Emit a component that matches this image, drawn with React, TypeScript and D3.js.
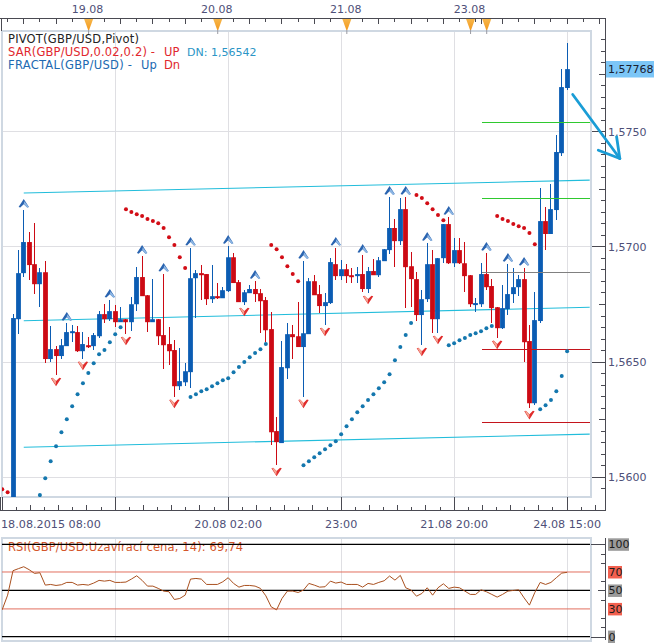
import React from "react";
import * as d3 from "d3";

const opens = [1.5577,1.56684,1.56884,1.57019,1.56923,1.56836,1.56888,1.56511,1.56554,1.56524,1.56567,1.56625,1.56628,1.56545,1.56571,1.56567,1.5661,1.56706,1.56684,1.56719,1.56671,1.56684,1.56671,1.56749,1.56867,1.56788,1.56671,1.56684,1.56615,1.56576,1.5655,1.56393,1.5641,1.56454,1.56862,1.56884,1.5688,1.56771,1.56784,1.56775,1.56806,1.56953,1.56845,1.56758,1.56797,1.56815,1.56797,1.56767,1.56641,1.56198,1.56146,1.56471,1.56619,1.5661,1.56563,1.56619,1.56849,1.56793,1.56741,1.56754,1.56923,1.56871,1.56901,1.56875,1.56871,1.5688,1.56815,1.56893,1.56875,1.56936,1.56984,1.5708,1.57023,1.57162,1.56914,1.56858,1.56702,1.56771,1.56923,1.56684,1.56949,1.57097,1.56927,1.56984,1.56927,1.56875,1.56749,1.56749,1.5688,1.56828,1.56736,1.56645,1.56728,1.56793,1.56823,1.56858,1.56589,1.56319,1.56676,1.5711,1.57054,1.57158,1.57405,1.57688];
const closes = [1.56689,1.56884,1.57019,1.56919,1.56836,1.56888,1.56511,1.56554,1.56524,1.56571,1.56628,1.56632,1.56545,1.56576,1.56565,1.56615,1.56706,1.56684,1.56719,1.56671,1.56684,1.56671,1.56749,1.56867,1.56784,1.56671,1.56684,1.5661,1.56571,1.56545,1.56393,1.56415,1.56458,1.56862,1.56884,1.56875,1.56771,1.56784,1.56775,1.5681,1.56953,1.56841,1.56758,1.56801,1.56815,1.56793,1.56762,1.56636,1.56193,1.5615,1.56476,1.56619,1.56606,1.56563,1.56623,1.56849,1.56788,1.56741,1.56758,1.56932,1.56871,1.56901,1.56871,1.56871,1.5688,1.56815,1.56893,1.56875,1.5694,1.56988,1.5708,1.57023,1.57162,1.5691,1.56858,1.56702,1.56771,1.56923,1.56684,1.56949,1.57097,1.56927,1.56984,1.56927,1.56871,1.56749,1.56754,1.5688,1.56823,1.56732,1.56645,1.56732,1.56793,1.56823,1.56858,1.56584,1.56319,1.5668,1.5711,1.57054,1.57162,1.5741,1.57692,1.5777];
const highs = [1.56706,1.56984,1.57158,1.57062,1.57101,1.56906,1.56936,1.56654,1.56567,1.56597,1.56667,1.56658,1.56654,1.56628,1.56606,1.56623,1.56719,1.56749,1.56767,1.56745,1.56736,1.56684,1.5678,1.5691,1.56958,1.56788,1.56858,1.56684,1.5688,1.56649,1.56593,1.56558,1.56493,1.56993,1.56897,1.56919,1.5688,1.56919,1.56841,1.56823,1.57001,1.56971,1.56854,1.5681,1.56832,1.56849,1.56815,1.5678,1.56715,1.56258,1.56589,1.56667,1.56658,1.56758,1.56936,1.56862,1.56875,1.56832,1.56797,1.56949,1.56993,1.5694,1.56923,1.56906,1.5691,1.56962,1.5691,1.56945,1.56953,1.56988,1.57214,1.57119,1.5721,1.57214,1.56975,1.56888,1.5681,1.57014,1.56984,1.56949,1.57097,1.57127,1.57036,1.57036,1.57019,1.56875,1.56775,1.56927,1.56971,1.56858,1.56736,1.56832,1.56923,1.56906,1.56875,1.56906,1.56658,1.56801,1.57253,1.57171,1.57271,1.57483,1.5777,1.57884];
const lows = [1.557,1.56619,1.56867,1.56854,1.56793,1.56736,1.56493,1.56498,1.56441,1.56511,1.56567,1.56584,1.56541,1.56511,1.56558,1.5655,1.56602,1.56667,1.56676,1.56649,1.56671,1.56619,1.56632,1.56719,1.56784,1.56628,1.56671,1.56571,1.56467,1.56484,1.56346,1.56376,1.56393,1.56384,1.56689,1.56767,1.56745,1.56754,1.56771,1.56775,1.56801,1.56841,1.56758,1.56745,1.56797,1.56758,1.56623,1.56584,1.56137,1.5605,1.56146,1.56423,1.56511,1.56563,1.56346,1.56619,1.56788,1.5671,1.56658,1.56749,1.56854,1.56854,1.56841,1.56841,1.56841,1.56801,1.56797,1.56875,1.56867,1.56936,1.56966,1.5691,1.57006,1.56732,1.56736,1.56676,1.56571,1.56758,1.56623,1.56623,1.56927,1.56923,1.5691,1.56923,1.56801,1.56736,1.56715,1.56736,1.5681,1.56667,1.56602,1.56641,1.56702,1.56754,1.56784,1.56498,1.56297,1.5631,1.56667,1.56984,1.57054,1.57114,1.57392,1.57679];

const sarRed: [number, number[]][] = [
  [-2, [1.55946,1.55933]],
  [21, [1.57162,1.57149,1.5714,1.57132,1.57119,1.5711,1.57101,1.5708,1.5704,1.57006,1.56953,1.56906]],
  [48, [1.57006,1.56988,1.56953,1.56914,1.5688,1.56849]],
  [75, [1.57223,1.5721,1.57188,1.57162,1.57136,1.57114]],
  [90, [1.57132,1.57119,1.5711,1.57097,1.57088,1.5708,1.57058,1.5701]],
];
const sarBlue: [number, number[]][] = [
  [5, [1.5592,1.55993,1.56067,1.56132,1.56193,1.5625,1.56306,1.56358,1.56406,1.5645,1.56493,1.56532,1.5655,1.56584,1.56619,1.56649]],
  [33, [1.56346,1.56358,1.56371,1.5638,1.56393,1.56406,1.56419,1.56428,1.56454,1.56476,1.56498,1.56519,1.56537,1.56554,1.56576]],
  [54, [1.5605,1.56067,1.56085,1.56102,1.56119,1.56137,1.56154,1.56184,1.56219,1.5625,1.5628,1.56306,1.56333,1.56358,1.56384,1.5641,1.56445,1.56506,1.56563,1.56615,1.56667]],
  [81, [1.56571,1.5658,1.56593,1.56602,1.56615,1.56623,1.56632,1.56645,1.56654]],
  [98, [1.56293,1.5631,1.56333,1.56371,1.56437,1.56545]],
];

const fractalUp = [2,10,18,24,28,33,40,45,54,60,65,70,73,77,81,88,92,95];
const fractalDown = [8,13,21,30,43,49,54,58,66,76,79,90,96];

const pivotIdx = [2, 107.2];
const pivotTop = [1.57232, 1.57288];
const pivotMid = [1.56677, 1.56736];
const pivotLow = [1.56128, 1.56185];
const levelIdx = [87.1, 107.2];
const greenLevels = [1.57537, 1.57206];
const greyLevels = [1.56888];
const redLevels = [1.56553, 1.56236];

const priceMajor = [1.575, 1.57, 1.565, 1.56];
const priceLabels = ["1,5750", "1,5700", "1,5650", "1,5600"];
const gridIdx = [19, 40, 61, 82, 103];
const bottomLabels: [number, string, string][] = [
  [-2, "18.08.2015 08:00", "start"],
  [40, "20.08 02:00", "middle"],
  [61, "23:00", "middle"],
  [82, "21.08 20:00", "middle"],
  [103, "24.08 15:00", "middle"],
];
const dateMarks: [number, string][] = [[14, "19.08"], [38, "20.08"], [62, "21.08"], [85, "23.08"], [88, ""]];

const rsi = [35.5,29.3,44.9,71.4,73.6,75.7,72.5,68.5,69.2,55.8,56.5,55.4,56.2,58.7,58.7,55.8,56.5,55.8,58,60.9,60.1,60.9,58.7,58.7,59.1,62.3,65.9,60.9,54.7,54.7,52.2,49.3,48.6,40.2,41.3,44.9,62.3,63,62.3,56.5,56.5,56.5,59.4,63.8,57.6,53.6,55.4,55.4,54.7,52.2,44.2,32.2,29,41.3,49.3,49.3,47.8,50.4,57.6,55.8,53.6,54,60.1,58,59.1,56.5,56.5,56.5,53.6,57.6,56.5,58.7,60.5,65.6,61.2,66.3,52.9,50.4,43.8,46.7,52.9,44.9,52.9,57.2,52.2,53.6,52.9,49.3,45.7,45.7,50.7,48.6,45.7,42.8,45.7,49.3,50,50.7,42,34.1,47.8,58.7,56.5,58.7,63.8,68.8,69.6];
const rsiLevelsRed = [70, 30];
const rsiLevelsBlack = [100, 50, 0];
const rsiTags: [number, string, string, number][] = [[100, "100", "#9a9a9a", 21], [70, "70", "#f2604f", 14], [50, "50", "#9a9a9a", 14], [30, "30", "#f2604f", 14], [0, "0", "#9a9a9a", 7]];
const rsiMinor = [90, 80, 60, 40, 20, 10];

// annotation arrow, in chart coordinates [index, price]
const arrowShaft: [number, number][] = [[104.04, 1.5766], [112.8, 1.57382]];
const arrowHeadA: [number, number][] = [[112.2, 1.57476], [112.8, 1.57382]];
const arrowHeadB: [number, number][] = [[108.8, 1.57418], [112.8, 1.57382]];

const x = d3.scaleLinear().domain([0, 103]).range([13, 567.1]);
const y = d3.scaleLinear().domain([1.575, 1.56]).range([131.3, 476.7]);
const yRsi = d3.scaleLinear().domain([100, 0]).range([544.3, 636.6]);

const FONT = "'DejaVu Sans', sans-serif";
const AXIS = "#4a4a52";
const LABEL = "#4e5078";
const GRID = "#dfdfe3";
const FRAME = "#cfd8e2";
const CANDLE_UP = "#0b5cb3";
const CANDLE_DN = "#cc0a14";

const px = (v: number) => Math.floor(v);
const segment = (pts: [number, number][]) => d3.line<[number, number]>().x((d) => x(d[0])).y((d) => y(d[1]))(pts) || "";

export default function App() {
  const priceTicks = d3.range(1.5595 * 10000, 1.5791 * 10000, 5).map((v) => Math.round(v));
  const topTicks = [...d3.range(-1, 85, 3), 85, 86, 87, 88, ...d3.range(91, 110, 3)];
  const bottomTicks = d3.range(0, 45).map((k) => -2 + k * 2.625).filter((v) => v < 110);
  const rsiLine = d3.line<number>().x((_, i) => x(i - 3)).y((d) => yRsi(d));
  return (
    <svg width={663} height={643} style={{ position: "absolute", left: 0, top: 0, background: "#fff", fontFamily: FONT }}>
      <defs>
        <clipPath id="plot"><rect x={2} y={31} width={589} height={466} /></clipPath>
        <clipPath id="rsi"><rect x={2} y={538} width={589} height={103} /></clipPath>
        <linearGradient id="mark" x1="0" x2="0" y1="0" y2="1">
          <stop offset="0" stopColor="#f7b64a" /><stop offset="1" stopColor="#f39a1e" />
        </linearGradient>
      </defs>

      {/* grid */}
      {priceMajor.map((p) => <line key={p} x1={2} x2={590} y1={Math.round(y(p)) + 0.5} y2={Math.round(y(p)) + 0.5} stroke={GRID} strokeWidth={1} />)}
      {gridIdx.map((i) => <line key={i} x1={px(x(i)) + 0.5} x2={px(x(i)) + 0.5} y1={31} y2={497} stroke={GRID} />)}
      {gridIdx.map((i) => <line key={"r" + i} x1={px(x(i)) + 0.5} x2={px(x(i)) + 0.5} y1={538} y2={641} stroke={GRID} />)}

      {/* price plot frame */}
      <rect x={2} y={31} width={589} height={466} fill="none" stroke={FRAME} strokeWidth={2} />

      <g clipPath="url(#plot)">
        {[pivotTop, pivotMid, pivotLow].map((l, k) => (
          <path key={k} d={segment([[pivotIdx[0], l[0]], [pivotIdx[1], l[1]]])} stroke="#22bddb" strokeWidth={1.05} fill="none" />
        ))}
        {opens.map((o, i) => {
          const c = closes[i];
          const up = c >= o;
          const col = up ? CANDLE_UP : CANDLE_DN;
          const top = y(Math.max(o, c));
          const bot = y(Math.min(o, c));
          const xp = px(x(i));
          return (
            <g key={i} fill={col}>
              <rect x={xp} y={y(highs[i])} width={1} height={y(lows[i]) - y(highs[i])} shapeRendering="crispEdges" />
              <rect x={xp + 0.5 - 2.4} y={top} width={4.8} height={Math.max(2, bot - top)} />
            </g>
          );
        })}
        {greenLevels.map((p) => <line key={p} x1={x(levelIdx[0])} x2={x(levelIdx[1])} y1={y(p)} y2={y(p)} stroke="#2fc92f" strokeWidth={1} shapeRendering="crispEdges" />)}
        {greyLevels.map((p) => <line key={p} x1={x(levelIdx[0])} x2={x(levelIdx[1])} y1={y(p)} y2={y(p)} stroke="#808080" strokeWidth={1} shapeRendering="crispEdges" />)}
        {redLevels.map((p) => <line key={p} x1={x(levelIdx[0])} x2={x(levelIdx[1])} y1={y(p)} y2={y(p)} stroke="#c4141c" strokeWidth={1} shapeRendering="crispEdges" />)}
        {sarRed.map(([s, v]) => v.map((p, k) => <circle key={s + "-" + k} cx={x(s + k)} cy={y(p)} r={2} fill="#d20d16" />))}
        {sarBlue.map(([s, v]) => v.map((p, k) => <circle key={s + "-" + k} cx={x(s + k)} cy={y(p)} r={2} fill="#1477ae" />))}
        {fractalUp.map((i) => (
          <g key={i} transform={`translate(${x(i)},${y(highs[i]) - 6.5}) scale(1.15)`}>
            <path d="M0,-4 L4.5,3 L3,3.5 L0,0.5 L-3,3.5 L-4.5,3 Z" fill="#2a64b0" />
            <path d="M0.5,-2 L4.5,3 L3,3.5 L0,0.5 Z" fill="#8db6e4" />
          </g>
        ))}
        {fractalDown.map((i) => (
          <g key={i} transform={`translate(${x(i)},${y(lows[i]) + 6.5}) scale(1.15)`}>
            <path d="M0,4 L-4.5,-3 L-3,-3.5 L0,-0.5 L3,-3.5 L4.5,-3 Z" fill="#e02c2c" />
            <path d="M-0.3,3 L-4,-3 L-2.6,-3 L0,-0.3 Z" fill="#f6a795" />
          </g>
        ))}
      </g>

      {/* legend */}
      <g fontSize={11.5} dominantBaseline="central">
        <text x={8} y={39} fill="#222" textLength={131}>PIVOT(GBP/USD,Pivot)</text>
        <text x={8} y={52} fill="#e1272d" textLength={147}>SAR(GBP/USD,0.02,0.2) -</text>
        <text x={164} y={52} fill="#e1272d">UP</text>
        <text x={187} y={52} fill="#2b95c6" fontSize={11}>DN: 1,56542</text>
        <text x={8} y={65} fill="#2069b1" textLength={124}>FRACTAL(GBP/USD) -</text>
        <text x={141} y={65} fill="#2069b1">Up</text>
        <text x={164} y={65} fill="#e1272d">Dn</text>
      </g>

      {/* top axis */}
      <line x1={0} x2={606} y1={18.5} y2={18.5} stroke={AXIS} />
      <line x1={1.5} x2={1.5} y1={18} y2={31} stroke={AXIS} />
      {topTicks.map((t, k) => <line key={k} x1={px(x(t)) + 0.5} x2={px(x(t)) + 0.5} y1={18} y2={k % 2 ? 24 : 22} stroke={AXIS} />)}
      {dateMarks.map(([i, lab]) => (
        <g key={i} transform={`translate(${x(i) + 0.3},18)`}>
          <path d="M-4.5,1 L4.5,1 L0.5,12 L-0.5,12 Z" fill="url(#mark)" />
          <line x1={0} x2={0} y1={12} y2={16} stroke="#9a9aa2" />
          {lab && <text x={-1} y={-9} textAnchor="middle" fontSize={11} fill={LABEL} dominantBaseline="central">{lab}</text>}
        </g>
      ))}

      {/* right axis */}
      <line x1={605.5} x2={605.5} y1={18} y2={510} stroke={AXIS} />
      {priceTicks.map((t) => {
        const major = t % 50 === 0;
        const mid = t % 25 === 0;
        const yy = Math.round(y(t / 10000)) + 0.5;
        return <line key={t} x1={major ? 592 : mid ? 599 : 601} x2={605} y1={yy} y2={yy} stroke={AXIS} />;
      })}
      {priceMajor.map((p, i) => <text key={p} x={608} y={y(p) + 1} fontSize={11} fill={LABEL} dominantBaseline="central">{priceLabels[i]}</text>)}
      <rect x={606} y={61} width={48} height={16.5} fill="#7cc6f7" />
      <text x={608} y={y(closes[closes.length - 1]) + 0.5} fontSize={11} fill="#1a2030" dominantBaseline="central">1,57768</text>

      {/* bottom axis */}
      <line x1={0} x2={606} y1={510.5} y2={510.5} stroke={AXIS} />
      <line x1={0.5} x2={0.5} y1={497} y2={510} stroke={AXIS} />
      {bottomTicks.map((t, k) => {
        const major = k % 8 === 0;
        const xx = px(x(t)) + 0.5;
        return <line key={k} x1={xx} x2={xx} y1={major ? 497 : k % 2 ? 507 : 505} y2={510} stroke={AXIS} />;
      })}
      {bottomLabels.map(([i, lab, anchor]) => (
        <text key={lab} x={anchor === "start" ? 1 : x(i)} y={524} textAnchor={anchor as any} fontSize={11.2} fill={LABEL} dominantBaseline="central">{lab}</text>
      ))}

      {/* RSI panel */}
      <rect x={2} y={538} width={589} height={103} fill="none" stroke={FRAME} strokeWidth={2} />
      <text x={8} y={547} fontSize={11.5} fill="#d4562a" dominantBaseline="central" textLength={235}>RSI(GBP/USD:Uzavírací cena, 14): 69,74</text>
      <g clipPath="url(#rsi)">
        {rsiLevelsRed.map((v) => <line key={v} x1={2} x2={590} y1={yRsi(v)} y2={yRsi(v)} stroke="#e2705f" strokeWidth={1} />)}
        {rsiLevelsBlack.map((v) => <line key={v} x1={2} x2={590} y1={yRsi(v)} y2={yRsi(v)} stroke="#000" strokeWidth={1.2} />)}
        <path d={rsiLine(rsi) || ""} fill="none" stroke="#a9501f" strokeWidth={1} />
      </g>
      <line x1={605.5} x2={605.5} y1={538} y2={640} stroke={AXIS} />
      {rsiLevelsBlack.map((v) => <line key={v} x1={v === 50 ? 598 : 591} x2={605} y1={Math.round(yRsi(v)) + 0.5} y2={Math.round(yRsi(v)) + 0.5} stroke={AXIS} />)}
      {rsiMinor.map((v) => <line key={v} x1={601} x2={605} y1={Math.round(yRsi(v)) + 0.5} y2={Math.round(yRsi(v)) + 0.5} stroke={AXIS} />)}
      {rsiTags.map(([v, lab, col, w]) => (
        <g key={v}>
          <rect x={608} y={yRsi(v) - 6} width={w} height={12.5} fill={col} />
          <text x={608.5} y={yRsi(v) + 0.5} fontSize={11} fill="#1c1c1c" dominantBaseline="central">{lab}</text>
        </g>
      ))}

      {/* hand-drawn arrow */}
      <g stroke="#1a9dd6" strokeWidth={2.8} fill="none" strokeLinecap="round">
        <path d={segment(arrowShaft)} />
        <path d={segment(arrowHeadA)} />
        <path d={segment(arrowHeadB)} />
      </g>
    </svg>
  );
}
